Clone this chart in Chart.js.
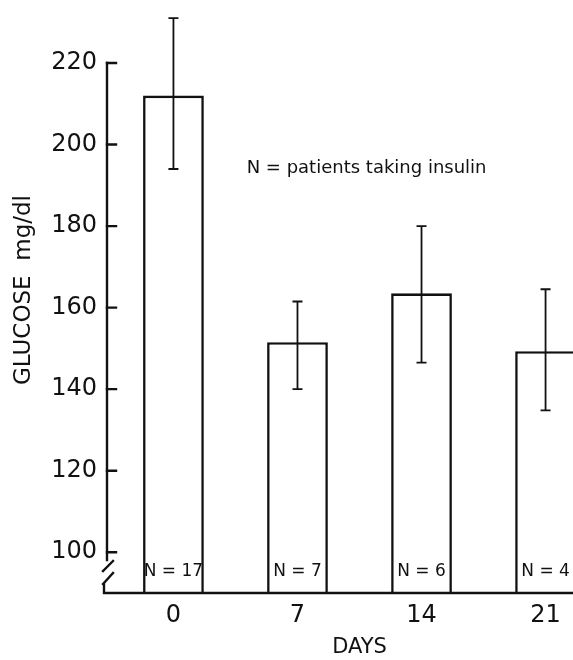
<!DOCTYPE html>
<html>
<head>
<meta charset="utf-8">
<script src="https://cdn.jsdelivr.net/npm/chart.js@4"></script>
<style>
  html, body { margin: 0; padding: 0; background: #fff; overflow: hidden; }
  #wrap { width: 573px; height: 660px; overflow: hidden; }
  canvas { display: block; }
</style>
</head>
<body>
<div id="wrap"><canvas id="glucoseChart" width="612" height="660" style="width:612px;height:660px"></canvas></div>
<script>
// values
const days = [0, 7, 14, 21];
const glucose = [212, 151.5, 163.5, 149.3];
const errHigh = [231, 161.5, 180, 164.5];
const errLow = [194, 140, 146.5, 134.8];
const nLabels = ['N = 17', 'N = 7', 'N = 6', 'N = 4'];
const yTicks = [100, 120, 140, 160, 180, 200, 220];
const yTitle = 'GLUCOSE  mg/dl';
const xTitle = 'DAYS';
const note = 'N = patients taking insulin';

const FONT = '"DejaVu Sans", sans-serif';
const INK = '#111';

// axis lines with the break, inward tick marks, error bars and text inside the plot
const extras = {
  id: 'extras',
  afterDatasetsDraw(chart) {
    const { ctx, chartArea: a, scales: { x, y } } = chart;
    const x0 = a.left;
    ctx.save();
    ctx.strokeStyle = INK;
    ctx.lineCap = 'square';

    // y axis with break
    ctx.lineWidth = 2.4;
    ctx.beginPath();
    ctx.moveTo(x0, a.top);
    ctx.lineTo(x0, a.bottom - 33);
    ctx.moveTo(x0 - 4, a.bottom - 22);
    ctx.lineTo(x0 + 6, a.bottom - 32);
    ctx.moveTo(x0 - 4, a.bottom - 9);
    ctx.lineTo(x0 + 6, a.bottom - 20);
    ctx.moveTo(x0 - 3, a.bottom - 9);
    ctx.lineTo(x0 - 3, a.bottom);
    ctx.lineTo(a.right, a.bottom);
    ctx.stroke();

    // inward ticks
    ctx.beginPath();
    yTicks.forEach(v => {
      const py = y.getPixelForValue(v);
      ctx.moveTo(x0, py);
      ctx.lineTo(x0 + 9, py);
    });
    ctx.stroke();

    // error bars
    const meta = chart.getDatasetMeta(0);
    ctx.lineWidth = 1.8;
    ctx.lineCap = 'butt';
    meta.data.forEach((bar, i) => {
      const hi = y.getPixelForValue(errHigh[i]);
      const lo = y.getPixelForValue(errLow[i]);
      ctx.beginPath();
      ctx.moveTo(bar.x, hi);
      ctx.lineTo(bar.x, lo);
      ctx.moveTo(bar.x - 5, hi);
      ctx.lineTo(bar.x + 5, hi);
      ctx.moveTo(bar.x - 5, lo);
      ctx.lineTo(bar.x + 5, lo);
      ctx.stroke();
    });

    // N labels in the bars
    ctx.fillStyle = INK;
    ctx.textAlign = 'center';
    ctx.textBaseline = 'middle';
    ctx.font = '17px ' + FONT;
    meta.data.forEach((bar, i) => {
      ctx.fillText(nLabels[i], bar.x, a.bottom - 21);
    });

    // note
    ctx.font = '18px ' + FONT;
    ctx.fillText(note, x.getPixelForValue(10.9), y.getPixelForValue(194.2));

    // y title
    ctx.save();
    ctx.translate(24, 290);
    ctx.rotate(-Math.PI / 2);
    ctx.font = '23px ' + FONT;
    ctx.fillText(yTitle, 0, 0);
    ctx.restore();

    ctx.restore();
  }
};

new Chart(document.getElementById('glucoseChart'), {
  type: 'bar',
  data: {
    datasets: [{
      data: days.map((d, i) => ({ x: d, y: glucose[i] })),
      backgroundColor: '#fff',
      borderColor: INK,
      borderWidth: 2.6,
      borderSkipped: 'bottom',
      barPercentage: 0.7,
      categoryPercentage: 0.7
    }]
  },
  options: {
    responsive: false,
    animation: false,
    events: [],
    layout: { padding: { left: 0, right: 0, top: 63, bottom: 0 } },
    plugins: { legend: { display: false }, tooltip: { enabled: false } },
    scales: {
      x: {
        type: 'linear',
        offset: false,
        min: -3.75,
        max: 24.75,
        afterBuildTicks: s => { s.ticks = days.map(v => ({ value: v })); },
        afterFit: s => { s.height = 67; },
        grid: { display: false, drawTicks: false },
        border: { display: false },
        ticks: { color: INK, padding: 8, font: { family: FONT, size: 24 }, maxRotation: 0 },
        title: { display: true, text: xTitle, color: INK, font: { family: FONT, size: 21 }, padding: { top: 4, bottom: 0 } }
      },
      y: {
        min: 90,
        max: 220,
        afterBuildTicks: s => { s.ticks = yTicks.map(v => ({ value: v })); },
        afterFit: s => { s.width = 107; },
        grid: { display: false, drawTicks: false },
        border: { display: false },
        ticks: { color: INK, padding: 10, font: { family: FONT, size: 24 } }
      }
    }
  },
  plugins: [extras]
});
</script>
</body>
</html>
